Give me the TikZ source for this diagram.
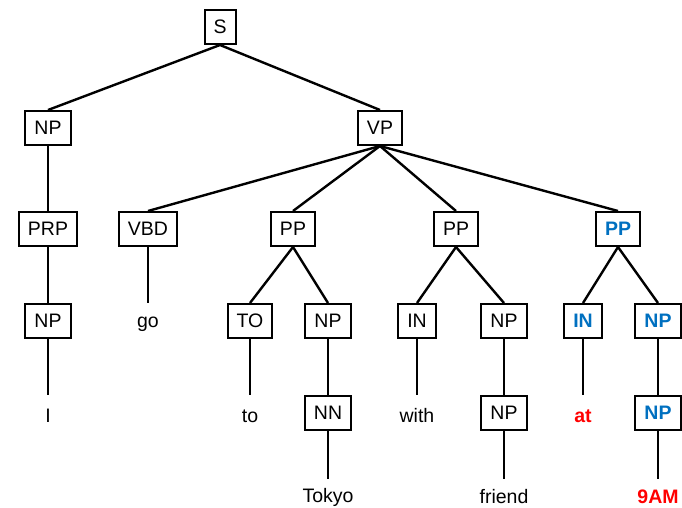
\documentclass[tikz,border=0pt]{standalone}
\usepackage{fontspec}
\setmainfont{Liberation Sans}
\definecolor{tblue}{RGB}{0,112,192}
\definecolor{tred}{RGB}{255,0,0}
\tikzset{
  cat/.style={draw, line width=2pt, font=\fontsize{19.5}{22}\selectfont, minimum height=34pt, inner xsep=9pt, inner ysep=0pt},
  leaf/.style={font=\fontsize{19.5}{22}\selectfont, minimum height=41pt, inner sep=0pt},
  lowleaf/.style={leaf, minimum height=35pt},
  hl/.style={text=tblue, font=\fontsize{19.5}{22}\selectfont\bfseries},
  hlred/.style={text=tred, font=\fontsize{19.5}{22}\selectfont\bfseries},
  edge/.style={line width=2.4pt}
}
\begin{document}
\begin{tikzpicture}[x=1pt,y=-1pt]
\useasboundingbox (0,0) rectangle (682,508);
\node[cat] (s) at (220,27) {S};
\node[cat] (np1) at (48,128) {NP};
\node[cat] (vp) at (380,128) {VP};
\node[cat] (prp) at (48,229) {PRP};
\node[cat] (vbd) at (148,229) {VBD};
\node[cat] (pp1) at (293,229) {PP};
\node[cat] (pp2) at (456,229) {PP};
\node[cat,hl] (pp3) at (618,229) {PP};
\node[cat] (np2) at (48,321) {NP};
\node[leaf] (go) at (148,324) {go};
\node[cat] (to) at (250,321) {TO};
\node[cat] (np3) at (328,321) {NP};
\node[cat] (in1) at (417,321) {IN};
\node[cat] (np4) at (504,321) {NP};
\node[cat,hl] (in2) at (583,321) {IN};
\node[cat,hl] (np5) at (658,321) {NP};
\node[leaf] (iw) at (48,416) {I};
\node[leaf] (tow) at (250,416) {to};
\node[cat] (nn) at (328,413) {NN};
\node[leaf] (with) at (417,416) {with};
\node[cat] (np6) at (504,413) {NP};
\node[leaf,hlred] (at) at (583,416) {at};
\node[cat,hl] (np7) at (658,413) {NP};
\node[lowleaf] (tokyo) at (328,497) {Tokyo};
\node[lowleaf] (friend) at (504,497) {friend};
\node[lowleaf,hlred] (nine) at (658,497) {9AM};
\begin{scope}[edge]
\draw (s.south) -- (np1.north);
\draw (s.south) -- (vp.north);
\draw (np1.south) -- (prp.north);
\draw (vp.south) -- (vbd.north);
\draw (vp.south) -- (pp1.north);
\draw (vp.south) -- (pp2.north);
\draw (vp.south) -- (pp3.north);
\draw (prp.south) -- (np2.north);
\draw (vbd.south) -- (go.north);
\draw (pp1.south) -- (to.north);
\draw (pp1.south) -- (np3.north);
\draw (pp2.south) -- (in1.north);
\draw (pp2.south) -- (np4.north);
\draw (pp3.south) -- (in2.north);
\draw (pp3.south) -- (np5.north);
\draw (np2.south) -- (iw.north);
\draw (to.south) -- (tow.north);
\draw (np3.south) -- (nn.north);
\draw (in1.south) -- (with.north);
\draw (np4.south) -- (np6.north);
\draw (in2.south) -- (at.north);
\draw (np5.south) -- (np7.north);
\draw (nn.south) -- (tokyo.north);
\draw (np6.south) -- (friend.north);
\draw (np7.south) -- (nine.north);
\end{scope}
\end{tikzpicture}
\end{document}
